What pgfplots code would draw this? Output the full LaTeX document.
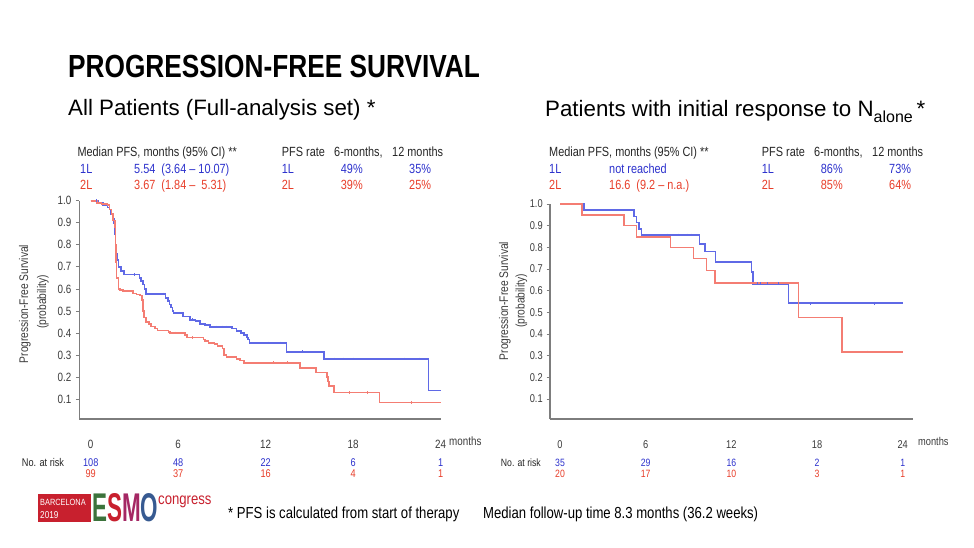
\documentclass[border=0pt]{standalone}
\usepackage{fontspec}
\setmainfont{Liberation Sans}
\newfontfamily\narrow{Liberation Sans}[FakeStretch=0.82]
\usepackage{graphicx}
\usepackage{pgfplots}
\pgfplotsset{compat=1.18}
\definecolor{kmblue}{RGB}{95,105,230}
\definecolor{kmred}{RGB}{244,125,115}
\definecolor{txtblue}{RGB}{45,50,205}
\definecolor{txtred}{RGB}{232,62,42}
\definecolor{axgray}{RGB}{125,125,125}
\definecolor{lblgray}{RGB}{60,60,60}
\definecolor{esmored}{RGB}{200,32,46}
\definecolor{esmogreen}{RGB}{60,115,60}
\definecolor{esmomag}{RGB}{165,40,100}
\definecolor{esmoblue}{RGB}{55,90,145}

\pgfplotsset{
  kmaxis/.style={
    scale only axis,
    axis lines*=left,
    axis line style={draw=axgray, line width=1.1pt, -},
    xtick={0,6,12,18,24},
    ytick={0.1,0.2,0.3,0.4,0.5,0.6,0.7,0.8,0.9,1.0},
    xtick style={draw=none},
    ytick style={draw=axgray, line width=0.8pt},
    tick align=outside,
    major tick length=3.5pt,
    /pgf/number format/assume math mode=true,
    yticklabel style={/pgf/number format/fixed, /pgf/number format/fixed zerofill, /pgf/number format/precision=1,
      anchor=east, inner sep=0pt, text=lblgray},
    xticklabel style={anchor=base, inner sep=0pt, yshift=-26pt, text=lblgray},
    clip=false,
  },
  bluekm/.style={const plot, draw=kmblue, line width=1.6pt, mark=none},
  redkm/.style={const plot, draw=kmred, line width=1.6pt, mark=none},
  bluecens/.style={only marks, mark=|, mark size=1.3pt, mark options={draw=kmblue, line width=0.6pt}},
  redcens/.style={only marks, mark=|, mark size=1.3pt, mark options={draw=kmred, line width=0.6pt}},
}

\begin{document}
\begin{tikzpicture}[x=1pt,y=1pt]
\path[use as bounding box, fill=white] (0,0) rectangle (974,547);

% ---------- titles ----------
\node[anchor=base west, inner sep=0pt] at (68,469) {\narrow\bfseries\fontsize{32}{36}\selectfont PROGRESSION-FREE SURVIVAL};
\node[anchor=base west, inner sep=0pt] at (68,431) {\fontsize{22.3}{26}\selectfont All Patients (Full-analysis set) *};
\node[anchor=base west, inner sep=0pt] at (545,430) {\fontsize{22.3}{26}\selectfont Patients with initial response to N\raisebox{-6pt}{\fontsize{16}{18}\selectfont alone}\,*};

% ---------- header tables ----------
\begin{scope}[every node/.style={anchor=base west, inner sep=0pt, font=\narrow\fontsize{13.3}{15}\selectfont}]
\node[text=black!85] at (77.3,390) {Median PFS, months (95\% CI) **};
\node[text=black!85] at (281.7,390) {PFS rate};
\node[text=black!85] at (334,390) {6-months,};
\node[text=black!85] at (392,390) {12 months};
\node[text=txtblue] at (80,373.5) {1L};
\node[text=txtblue] at (134,373.5) {5.54\ \ (3.64 – 10.07)};
\node[text=txtblue] at (281.7,373.5) {1L};
\node[text=txtblue] at (340.7,373.5) {49\%};
\node[text=txtblue] at (409,373.5) {35\%};
\node[text=txtred] at (80,357.5) {2L};
\node[text=txtred] at (134,357.5) {3.67\ \ (1.84 –\ \ 5.31)};
\node[text=txtred] at (281.7,357.5) {2L};
\node[text=txtred] at (340.7,357.5) {39\%};
\node[text=txtred] at (409,357.5) {25\%};
\node[text=black!85] at (549,390) {Median PFS, months (95\% CI) **};
\node[text=black!85] at (761.7,390) {PFS rate};
\node[text=black!85] at (814,390) {6-months,};
\node[text=black!85] at (872,390) {12 months};
\node[text=txtblue] at (549,373.5) {1L};
\node[text=txtblue] at (609,373.5) {not reached};
\node[text=txtblue] at (761.7,373.5) {1L};
\node[text=txtblue] at (820.7,373.5) {86\%};
\node[text=txtblue] at (889,373.5) {73\%};
\node[text=txtred] at (549,357.5) {2L};
\node[text=txtred] at (609,357.5) {16.6\ \ (9.2 – n.a.)};
\node[text=txtred] at (761.7,357.5) {2L};
\node[text=txtred] at (820.7,357.5) {85\%};
\node[text=txtred] at (889,357.5) {64\%};
\end{scope}

% ---------- left KM axis ----------
\begin{axis}[kmaxis,
  at={(79.3pt,128pt)}, anchor=south west,
  width=361.4pt, height=218.3pt,
  xmin=-0.78, xmax=24, ymin=0.01, ymax=1.0,
  ticklabel style={font=\narrow\fontsize{12}{14}\selectfont},
  yticklabel style={xshift=-4.3pt},
]
\addplot[bluekm] coordinates {
(0,1.0) (0.5,0.99) (0.85,0.98) (1.15,0.97) (1.3,0.96) (1.4,0.94) (1.5,0.92) (1.6,0.90)
(1.65,0.85) (1.7,0.80) (1.77,0.76) (1.83,0.73) (1.92,0.70) (2.06,0.68) (2.29,0.665)
(3.36,0.65) (3.47,0.635) (3.6,0.62) (3.7,0.60) (3.8,0.577) (5.14,0.56) (5.3,0.545)
(5.4,0.53) (5.5,0.515) (5.6,0.50) (5.67,0.49) (6.35,0.475) (6.8,0.46) (7.2,0.455)
(7.5,0.44) (7.84,0.437) (8.2,0.428) (9.7,0.42) (10.0,0.41) (10.3,0.40) (10.5,0.39)
(10.7,0.38) (10.8,0.37) (10.9,0.355) (13.44,0.315) (16.0,0.283) (23.15,0.14) (24,0.14)};
\addplot[redkm] coordinates {
(0,1.0) (0.45,0.99) (0.75,0.985) (1.14,0.98) (1.28,0.96) (1.42,0.94) (1.55,0.91) (1.65,0.88)
(1.69,0.80) (1.74,0.72) (1.78,0.65) (1.9,0.60) (2.0,0.595) (2.2,0.59) (2.9,0.58) (3.15,0.575)
(3.38,0.57) (3.5,0.55) (3.6,0.50) (3.66,0.47) (3.8,0.45) (3.98,0.44) (4.15,0.43) (4.4,0.42)
(4.57,0.412) (5.33,0.405) (5.44,0.40) (6.47,0.39) (6.6,0.38) (7.73,0.37) (7.85,0.365)
(8.07,0.355) (8.5,0.35) (8.7,0.34) (9.03,0.33) (9.15,0.30) (9.3,0.29) (10.0,0.283)
(10.24,0.275) (10.5,0.265) (14.35,0.24) (15.43,0.22) (16.2,0.20) (16.27,0.18) (16.35,0.16)
(16.7,0.13) (19.8,0.085) (24,0.085)};
\addplot[bluecens] coordinates {(0.4,1.0) (3.0,0.665) (5.0,0.577) (6.1,0.49) (7.0,0.46) (8.6,0.428) (9.0,0.428) (9.3,0.428)
(12.2,0.355) (13.0,0.355) (14.5,0.315) (16.7,0.283) (17.3,0.283) (18.0,0.283) (21.5,0.283) (22.5,0.283)};
\addplot[redcens] coordinates {(2.5,0.59) (5.8,0.40) (7.0,0.38) (12.5,0.265) (13.5,0.265) (17.7,0.13) (19.0,0.13) (22.0,0.085)};
\end{axis}

% ---------- right KM axis ----------
\begin{axis}[kmaxis,
  at={(550pt,128pt)}, anchor=south west,
  width=363.3pt, height=215pt,
  xmin=-0.70, xmax=24.74, ymin=0.008, ymax=1.0,
  ticklabel style={font=\narrow\fontsize{11.3}{13}\selectfont},
  yticklabel style={xshift=-3.6pt},
]
\addplot[bluekm] coordinates {
(0,1.0) (1.7,0.971) (5.18,0.943) (5.37,0.915) (5.53,0.886) (5.7,0.857) (9.76,0.815)
(10.16,0.78) (10.9,0.733) (13.42,0.685) (13.5,0.632) (16.0,0.542) (24,0.542)};
\addplot[redkm] coordinates {
(0,1.0) (1.52,0.949) (4.5,0.90) (5.37,0.849) (7.73,0.80) (9.34,0.748) (10.27,0.694)
(10.86,0.635) (16.7,0.477) (19.73,0.317) (24,0.317)};
\addplot[bluecens] coordinates {(7.5,0.857) (8.3,0.857) (8.9,0.857) (9.2,0.857) (13.8,0.632) (14.0,0.632) (14.5,0.632) (15.3,0.632) (17.5,0.542) (22.0,0.542)};
\addplot[redcens] coordinates {(21.5,0.317)};
\end{axis}

% ---------- y labels ----------
\begin{scope}[every node/.style={rotate=90, anchor=center, inner sep=0pt, text=lblgray, font=\narrow\fontsize{12.5}{14}\selectfont}]
\node at (25,243) {Progression-Free Survival};
\node at (43,245) {(probability)};
\node at (505,246) {Progression-Free Survival};
\node at (521.5,246) {(probability)};
\end{scope}

% ---------- months + numbers at risk ----------
\node[anchor=base west, inner sep=0pt, text=lblgray, font=\narrow\fontsize{12}{14}\selectfont] at (449,102) {months};
\node[anchor=base west, inner sep=0pt, text=lblgray, font=\narrow\fontsize{11.3}{13}\selectfont] at (918,102) {months};

\begin{scope}[every node/.style={anchor=base, inner sep=0pt, font=\narrow\fontsize{11.2}{13}\selectfont}]
\node[anchor=base west, text=black!85] at (21.7,80.5) {No. at risk};
\node[text=txtblue] at (90.7,80.5) {108};
\node[text=txtblue] at (178.2,80.5) {48};
\node[text=txtblue] at (265.7,80.5) {22};
\node[text=txtblue] at (353.2,80.5) {6};
\node[text=txtblue] at (440.7,80.5) {1};
\node[text=txtred] at (90.7,69.5) {99};
\node[text=txtred] at (178.2,69.5) {37};
\node[text=txtred] at (265.7,69.5) {16};
\node[text=txtred] at (353.2,69.5) {4};
\node[text=txtred] at (440.7,69.5) {1};
\end{scope}
\begin{scope}[every node/.style={anchor=base, inner sep=0pt, font=\narrow\fontsize{10.6}{12}\selectfont}]
\node[anchor=base west, text=black!85] at (500.7,80.5) {No. at risk};
\node[text=txtblue] at (560,80.5) {35};
\node[text=txtblue] at (645.7,80.5) {29};
\node[text=txtblue] at (731.4,80.5) {16};
\node[text=txtblue] at (817,80.5) {2};
\node[text=txtblue] at (902.7,80.5) {1};
\node[text=txtred] at (560,69.5) {20};
\node[text=txtred] at (645.7,69.5) {17};
\node[text=txtred] at (731.4,69.5) {10};
\node[text=txtred] at (817,69.5) {3};
\node[text=txtred] at (902.7,69.5) {1};
\end{scope}

% ---------- footer ----------
\fill[esmored] (37.5,25) rectangle (90.5,53);
\node[anchor=base west, inner sep=0pt, text=white, font=\narrow\fontsize{9}{10}\selectfont] at (40,42) {BARCELONA};
\node[anchor=base west, inner sep=0pt, text=white, font=\narrow\fontsize{10}{11}\selectfont] at (40,29) {2019};
\node[anchor=south west, inner sep=0pt] at (92,25) {\resizebox{66pt}{28pt}{\narrow\bfseries\textcolor{esmogreen}{E}\textcolor{esmored}{S}\textcolor{esmomag}{M}\textcolor{esmoblue}{O}}};
\node[anchor=base west, inner sep=0pt, text=esmored, font=\narrow\fontsize{16}{18}\selectfont] at (158,43) {congress};
\node[anchor=base west, inner sep=0pt, font=\narrow\fontsize{16}{18}\selectfont] at (228,29) {* PFS is calculated from start of therapy};
\node[anchor=base west, inner sep=0pt, font=\narrow\fontsize{16}{18}\selectfont] at (483,29) {Median follow-up time 8.3 months (36.2 weeks)};
\end{tikzpicture}
\end{document}
